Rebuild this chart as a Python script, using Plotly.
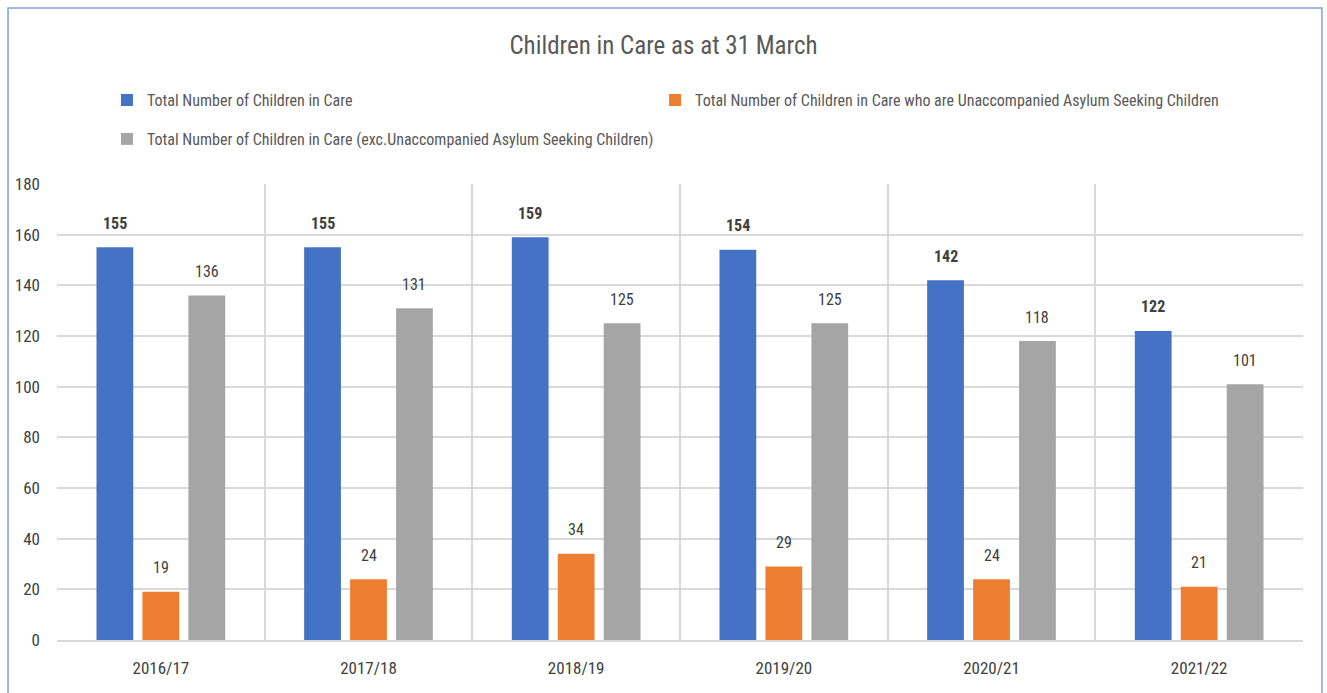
import plotly.graph_objects as go

# Children in care at 31 March, by year
years = ["2016/17", "2017/18", "2018/19", "2019/20", "2020/21", "2021/22"]
total_in_care = [155, 155, 159, 154, 142, 122]
uasc_in_care = [19, 24, 34, 29, 24, 21]
excl_uasc = [136, 131, 125, 125, 118, 101]

series_names = [
    "Total Number of Children in Care",
    "Total Number of Children in Care who are Unaccompanied Asylum Seeking Children",
    "Total Number of Children in Care (exc.Unaccompanied Asylum Seeking Children)",
]
series_colors = ["#4472C4", "#ED7D31", "#A5A5A5"]
y_ticks = [0, 20, 40, 60, 80, 100, 120, 140, 160, 180]

FONT = "Liberation Sans Narrow, Roboto Condensed, Arial Narrow, sans-serif"
TEXT_COLOR = "#404040"

BARGAP = 0.336
N_SERIES = 3
PLOT_W = 1246  # plot-area width in px (1327 - margins)
slot_px = PLOT_W / len(years) * (1 - BARGAP) / N_SERIES

fig = go.Figure()
series_values = [total_in_care, uasc_in_care, excl_uasc]
legend_ids = ["legend", "legend2", "legend3"]
for i, (name, vals, color) in enumerate(zip(series_names, series_values, series_colors)):
    fig.add_trace(go.Bar(
        x=years, y=vals, name=name, marker_color=color,
        marker_line_width=0, legend=legend_ids[i],
    ))
    # value labels above each bar
    for yr, v in zip(years, vals):
        label = f"<b>{v}</b>" if i == 0 else str(v)
        fig.add_annotation(
            x=yr, y=v, text=label, showarrow=False,
            xshift=(i - 1) * slot_px, yshift=24, yanchor="middle",
            font=dict(family=FONT, size=16, color=TEXT_COLOR),
        )

legend_font = dict(family=FONT, size=16, color="#595959")
legend_common = dict(orientation="h", xanchor="left", yanchor="middle",
                     itemwidth=30, font=legend_font, bgcolor="rgba(0,0,0,0)")

fig.update_layout(
    width=1327, height=693,
    margin=dict(l=57, r=24, t=184, b=53),
    paper_bgcolor="white", plot_bgcolor="white",
    barmode="group", bargap=BARGAP, bargroupgap=0.2,
    font=dict(family=FONT, color=TEXT_COLOR),
    title=dict(text="Children in Care as at 31 March", x=0.5, xanchor="center",
               y=0.934, yanchor="middle",
               font=dict(family=FONT, size=25, color="#595959")),
    legend=dict(x=0.0401, y=1.184, **legend_common),
    legend2=dict(x=0.48, y=1.184, **legend_common),
    legend3=dict(x=0.0401, y=1.0987, **legend_common),
    showlegend=True,
)

fig.update_xaxes(
    type="category", tickson="boundaries", ticklen=0,
    showgrid=True, gridcolor="#D9D9D9", gridwidth=1.5,
    showline=True, linecolor="#D9D9D9", linewidth=1.5,
    tickfont=dict(family=FONT, size=17, color=TEXT_COLOR),
    ticklabelstandoff=12,
)
fig.update_yaxes(
    range=[0, 180], tickvals=y_ticks, showgrid=True, gridcolor="#D9D9D9",
    gridwidth=1.5, zeroline=False, ticks="", ticklabelstandoff=16,
    tickfont=dict(family=FONT, size=17, color=TEXT_COLOR),
)

# outer chart frame
fig.add_shape(type="rect", xref="paper", yref="paper",
              x0=-0.0393, x1=1.0152, y0=-0.2, y1=1.386,
              line=dict(color="#7FA3E0", width=1.5), fillcolor="rgba(0,0,0,0)",
              layer="above")

fig.write_html("out.html")
